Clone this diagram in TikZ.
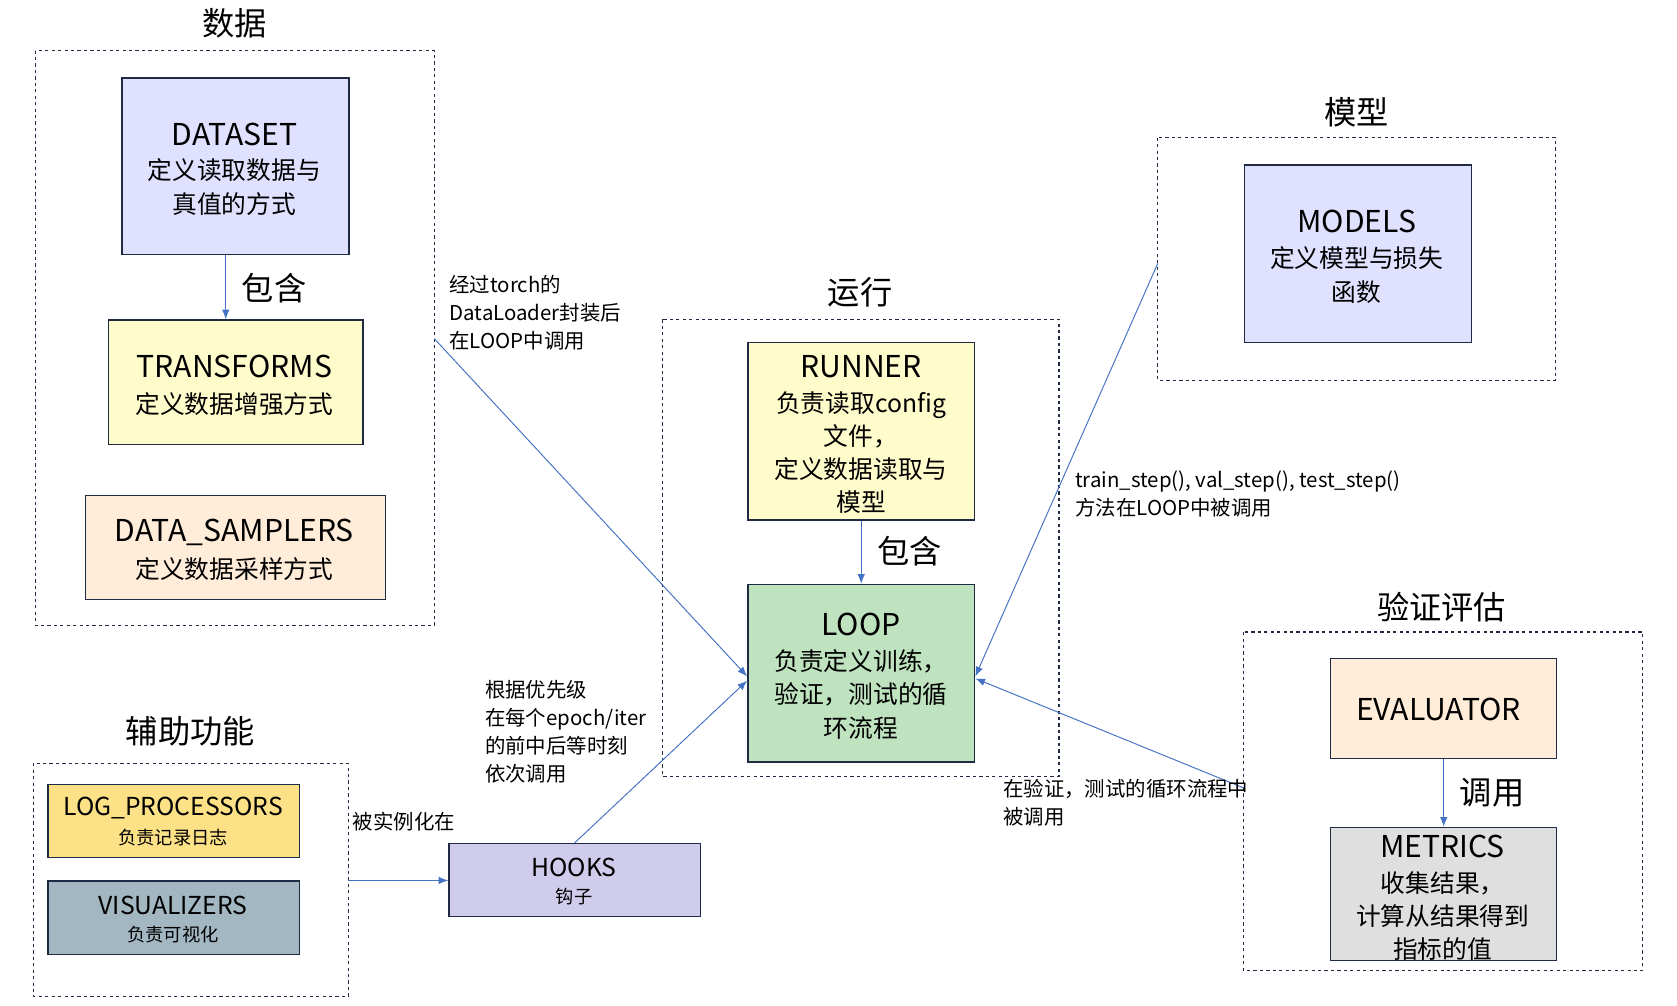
\documentclass[tikz,border=0pt]{standalone}
\usepackage{fontspec}
\setmainfont{Noto Sans CJK SC}
\usetikzlibrary{arrows.meta}
\definecolor{navy}{HTML}{1F2A44}
\definecolor{arr}{HTML}{4472C4}
\tikzset{
 box/.style={draw=navy,line width=1.3pt,align=center,inner sep=0pt},
 grp/.style={draw=navy,dashed,line width=1.2pt},
 ttl/.style={font=\fontsize{30}{34}\selectfont},
 lbl/.style={font=\fontsize{19}{26}\selectfont,align=left,anchor=north west,inner sep=0pt},
 con/.style={draw=arr,line width=0.9pt,-{Latex[length=9pt,width=7pt]}},
 big/.style={font=\fontsize{30}{34}\selectfont}
}
\newcommand{\bx}[6]{\node[box,fill=#6,minimum width=#4pt,minimum height=#5pt,anchor=north west] (#1) at (#2,#3) {};}
\begin{document}
\begin{tikzpicture}[x=1pt,y=-1pt]
\useasboundingbox (0,0) rectangle (1560,935);
% groups
\draw[grp] (33,47) rectangle (404,582); \node[ttl] (t1) at (218,22) {数据};
\draw[grp] (1077,128) rectangle (1447,354); \node[ttl] (t2) at (1262,104) {模型};
\draw[grp] (616,297) rectangle (985,722); \node[ttl] (t3) at (800,272) {运行};
\draw[grp] (1157,588) rectangle (1528,903); \node[ttl] (t4) at (1341,565) {验证评估};
\draw[grp] (31,710) rectangle (324,927); \node[ttl] (t5) at (177,680) {辅助功能};
\coordinate (dataR) at (404,315);
\coordinate (modL) at (1077,245);
\coordinate (evalL) at (1157,733);
\coordinate (auxR) at (324,819);
% boxes
\bx{ds}{113}{72}{211}{164}{blue!12!white}
\node[font=\fontsize{28}{32}\selectfont] at (218,125) {DATASET};
\node[font=\fontsize{23}{31}\selectfont,align=center] at (218,174) {定义读取数据与\\真值的方式};
\bx{tf}{100}{297}{237}{116}{yellow!20!white}
\node[font=\fontsize{28}{32}\selectfont] at (218,341) {TRANSFORMS};
\node[font=\fontsize{23}{31}\selectfont] at (218,376) {定义数据增强方式};
\bx{sm}{79}{460}{279}{97}{orange!15!white}
\node[font=\fontsize{28}{32}\selectfont] at (218,495) {DATA\_SAMPLERS};
\node[font=\fontsize{23}{31}\selectfont] at (218,529) {定义数据采样方式};
\bx{md}{1157}{153}{211}{165}{blue!12!white}
\node[font=\fontsize{28}{32}\selectfont] at (1262,206) {MODELS};
\node[font=\fontsize{23}{31}\selectfont,align=center] at (1262,256) {定义模型与损失\\函数};
\bx{rn}{695}{318}{211}{165}{yellow!20!white}
\node[font=\fontsize{28}{32}\selectfont] at (801,341) {RUNNER};
\node[font=\fontsize{23}{30.5}\selectfont,align=center] at (801,421) {负责读取config\\文件，\\定义数据读取与\\模型};
\bx{lp}{695}{543}{211}{165}{green!55!black!25!white}
\node[font=\fontsize{28}{32}\selectfont] at (801,581) {LOOP};
\node[font=\fontsize{23}{31}\selectfont,align=center] at (801,646) {负责定义训练，\\验证，测试的循\\环流程};
\bx{ev}{1237}{612}{210}{93}{orange!15!white}
\node[font=\fontsize{28}{32}\selectfont] at (1338,660) {EVALUATOR};
\bx{mt}{1237}{769}{210}{124}{gray!25!white}
\node[font=\fontsize{28}{32}\selectfont] at (1342,787) {METRICS};
\node[font=\fontsize{23}{31}\selectfont,align=center] at (1342,852) {收集结果，\\计算从结果得到\\指标的值};
\bx{lg}{44}{729}{234}{68}{yellow!55!orange!45!white}
\node[font=\fontsize{23}{27}\selectfont] at (161,752) {LOG\_PROCESSORS};
\node[font=\fontsize{17}{20}\selectfont] at (161,779) {负责记录日志};
\bx{vz}{44}{819}{234}{68}{blue!35!cyan!20!gray!60!white}
\node[font=\fontsize{23}{27}\selectfont] at (161,842) {VISUALIZERS};
\node[font=\fontsize{17}{20}\selectfont] at (161,869) {负责可视化};
\bx{hk}{417}{784}{234}{68}{cyan!12!blue!18!white}
\node[font=\fontsize{23}{27}\selectfont] at (534,807) {HOOKS};
\node[font=\fontsize{17}{20}\selectfont] at (534,834) {钩子};
% connectors
\draw[con] (ds.south -| 210,0) -- (tf.north -| 210,0);
\node[big] (c1) at (255,268) {包含};
\draw[con] (rn.south) -- (lp.north);
\node[big] (c2) at (846,513) {包含};
\draw[con] (ev.south -| 1343,0) -- (mt.north -| 1343,0);
\node[big] (c3) at (1388,737) {调用};
\draw[con] (auxR) -- (hk.west |- auxR);
\draw[con] (dataR) -- ([yshift=-3pt]lp.west);
\draw[con] (hk.north) -- ([yshift=-7pt]lp.west);
\draw[con] (modL) -- ([yshift=-3pt]lp.east);
\draw[con] (evalL) -- ([yshift=-5pt]lp.east);
% labels
\node[lbl] (l1) at (418,256) {经过torch的\\DataLoader封装后\\在LOOP中调用};
\node[lbl] (l2) at (451,633) {根据优先级\\在每个epoch/iter\\的前中后等时刻\\依次调用};
\node[lbl] (l3) at (1000,438) {train\_step(), val\_step(), test\_step()\\方法在LOOP中被调用};
\node[lbl] (l4) at (933,725) {在验证，测试的循环流程中\\被调用};
\node[lbl] (l5) at (328,755) {被实例化在};
\end{tikzpicture}
\end{document}
